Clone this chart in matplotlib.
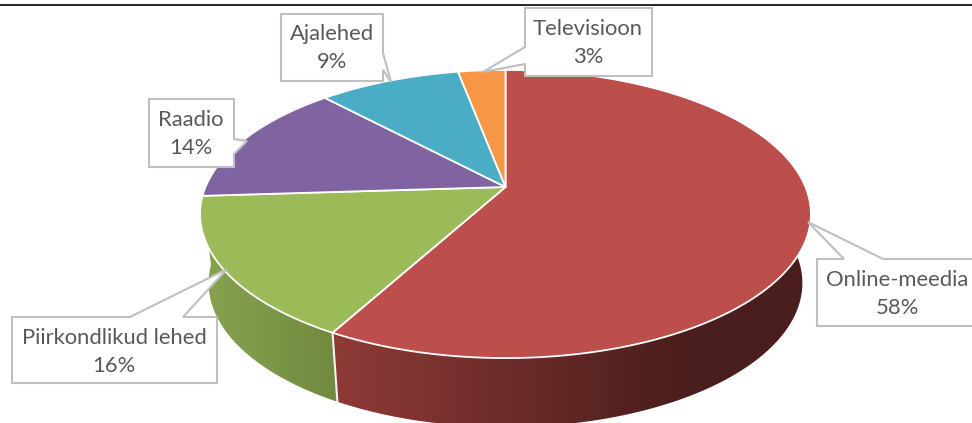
import numpy as np
import matplotlib
matplotlib.use("Agg")
import matplotlib.pyplot as plt
from matplotlib.patches import Polygon

categories = ["Online-meedia", "Piirkondlikud lehed", "Raadio", "Ajalehed", "Televisioon"]
shares = [58, 16, 14, 9, 3]
top_colors = ["#BC4E4B", "#9BBB59", "#8064A2", "#4BACC6", "#F79646"]

# perspective of the pie, in pixels
cx, cy = 505.5, 187
A, B, k = 300, 139, 0.1875
wall_h = 69
wall_shrink = 0.972

plt.rcParams["font.family"] = ["Lato", "DejaVu Sans"]


def rim(theta):
    u, v = np.sin(theta), np.cos(theta)
    w = 1 + k * v
    return cx + A * u / w, cy - B * v / w


def rim_low(theta):
    x, y = rim(theta)
    return cx + (x - cx) * wall_shrink, y + wall_h


fig = plt.figure(figsize=(9.72, 4.23), dpi=100)
ax = fig.add_axes([0, 0, 1, 1])
ax.axis("off")

ax.axhline(5, color="black", lw=1.2)

edges = np.radians(np.cumsum([0] + shares) * 3.6)

# side walls, only red and green can be seen from the front
wall_ramps = {0: (337, 680, (0x8E, 0x3A, 0x37), (0x4A, 0x1E, 0x1C)),
              1: (205, 335, (0x86, 0xA3, 0x4F), (0x72, 0x8A, 0x40))}
for i, (x0, x1, c0, c1) in wall_ramps.items():
    angles = np.linspace(edges[i], edges[i + 1], 300)
    xs_top, ys_top = rim(angles)
    xs_low, ys_low = rim_low(angles)
    outline = np.c_[np.r_[xs_top, xs_low[::-1]], np.r_[ys_top, ys_low[::-1]]]
    left, right = outline[:, 0].min(), outline[:, 0].max()
    top, bottom = outline[:, 1].min(), outline[:, 1].max()
    grid = np.linspace(left, right, 400)
    t = np.clip((grid - x0) / (x1 - x0), 0, 1)[None, :, None]
    ramp = (np.array(c0) + t * (np.array(c1) - np.array(c0))) / 255
    im = ax.imshow(ramp, extent=(left, right, bottom, top), aspect="auto", zorder=1)
    clip = Polygon(outline, closed=True, transform=ax.transData, facecolor="none", edgecolor="none")
    ax.add_patch(clip)
    im.set_clip_path(clip)

# white seam between the two walls
seam = edges[1]
ax.plot([rim(seam)[0], rim_low(seam)[0]], [rim(seam)[1], rim_low(seam)[1]],
        color="#F2F2F2", lw=1.5, zorder=2)

# top face
for i in range(len(shares)):
    angles = np.linspace(edges[i], edges[i + 1], 200)
    xs, ys = rim(angles)
    ax.fill(np.r_[cx, xs], np.r_[cy, ys], facecolor=top_colors[i],
            edgecolor="white", lw=1.3, joinstyle="round", zorder=3)

# callout boxes: outline with pointer, text centre
callouts = {
    "Online-meedia": ([(817, 259), (844, 259), (808, 222), (883, 259), (980, 259), (980, 326), (817, 326)], (897, 294)),
    "Piirkondlikud lehed": ([(12, 317), (130, 317), (227, 269), (183, 317), (217, 317), (217, 383), (12, 383)], (114, 352)),
    "Raadio": ([(149, 99), (234, 99), (234, 139), (247, 141), (234, 154), (234, 167), (149, 167)], (191, 134)),
    "Ajalehed": ([(281, 14), (383, 14), (383, 53), (391, 82), (383, 70), (383, 81), (281, 81)], (332, 48)),
    "Televisioon": ([(525, 8), (652, 8), (652, 76), (525, 76), (525, 64), (483, 72), (525, 47)], (588, 43)),
}

for name, share in zip(categories, shares):
    outline, centre = callouts[name]
    xs, ys = zip(*outline)
    ax.fill(xs, ys, facecolor="white", edgecolor="#BFBFBF", lw=1.5, zorder=4)
    ax.text(centre[0], centre[1], f"{name}\n{share}%", ha="center", va="center",
            fontsize=15.8, color="#595959", linespacing=1.52, zorder=5)

ax.set_xlim(0, 972)
ax.set_ylim(423, 0)

plt.savefig("out.png", dpi=100)
